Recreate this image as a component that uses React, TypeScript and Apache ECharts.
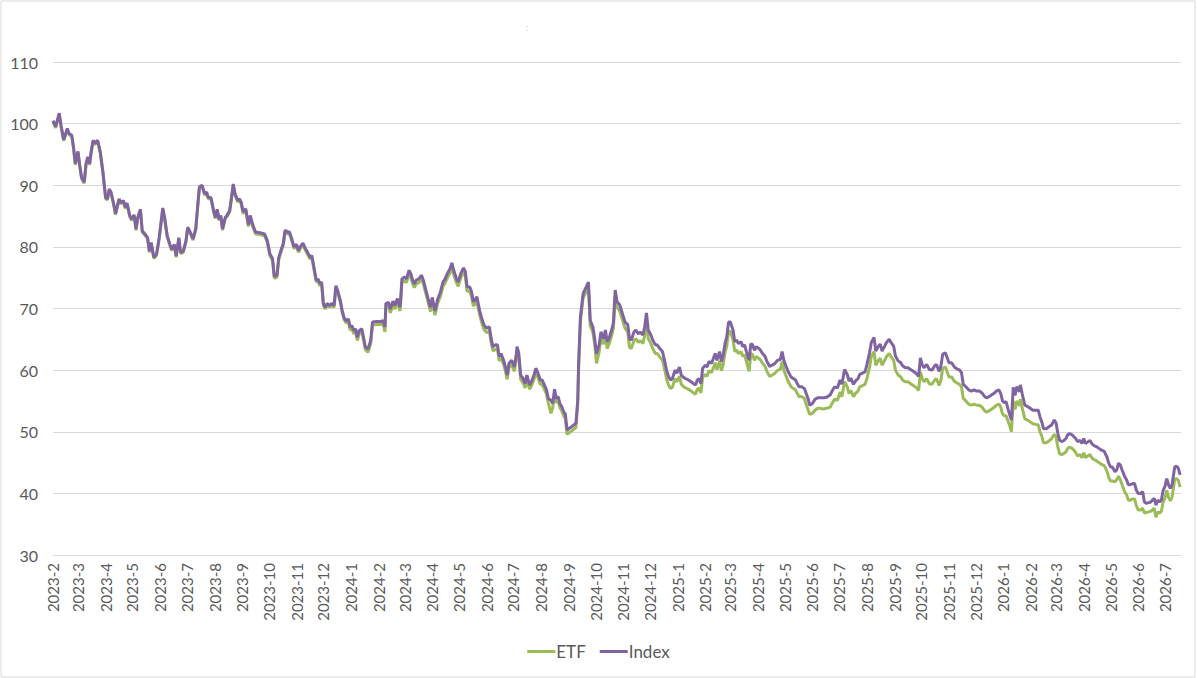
import React, { useEffect, useRef } from 'react';
import * as echarts from 'echarts';

// Axis runs over calendar days from the first date to the last one
const firstDate = [2023, 2, 1];
const totalDays = 1265;

// Sample points: day offsets from firstDate, Index and ETF values
const daysA = [0,3,7,9,12,16,18,21,23,25,28,30,32,35,37,39,41,43,45,47,50,53,56,59,61,63,65,68,70,74,76,79,81,83,86,88,91,93,95,98,100,103,106,108,110,113,116,119,123,125,128,131,133,136,138,141,143,146,149,151,154,157,160,162,164,167,170,172,174,177,180,182,184,186,188,190,193,195,198,200,202,204,207,209];
const indexA = [100.5,99.5,101.7,99.7,97.4,99.2,98.4,98.1,96.2,93.5,95.5,93.2,91.3,90.5,93.5,94.6,93.5,95.7,97.3,96.8,97.3,95.4,92.1,88.0,87.8,89.4,88.9,87.0,85.4,87.8,87.2,87.5,86.4,87.1,85.1,84.5,85.2,82.9,84.8,86.1,82.6,82.1,81.5,79.3,80.7,78.3,78.8,81.5,86.3,84.8,81.8,80.4,79.6,80.4,78.5,81.5,79.1,79.3,81.0,83.2,82.3,81.3,83.0,86.4,89.7,90.0,88.6,88.9,88.0,88.0,85.9,84.8,86.1,84.5,85.1,82.9,84.8,85.1,85.9,88.0,90.2,88.6,87.5,87.8];
const etfA = [100.3,99.3,101.5,99.5,97.2,99.0,98.2,97.9,96.0,93.3,95.3,93.0,91.1,90.3,93.3,94.4,93.3,95.5,97.1,96.6,97.1,95.2,91.9,87.8,87.6,89.2,88.7,86.8,85.2,87.6,87.0,87.3,86.2,86.9,84.9,84.3,85.0,82.7,84.6,85.9,82.4,81.9,81.3,79.1,80.5,78.1,78.6,81.3,86.1,84.6,81.6,80.2,79.4,80.2,78.3,81.3,78.9,79.1,80.8,83.0,82.1,81.1,82.8,86.2,89.5,89.8,88.4,88.7,87.8,87.8,85.7,84.6,85.9,84.3,84.9,82.7,84.6,84.9,85.7,87.8,90.0,88.4,87.3,87.6];

const daysB = [211,213,216,219,221,224,227,232,237,240,243,246,248,251,253,256,258,260,263,265,268,270,273,275,277,280,283,285,288,290,292,295,297,299,301,303,305,307,310,312,315,317,319,322,324,326,328,331,333,335,337,339,341,343,346,348,350,353,356,358,363,367,370,372,373,376,378,381,383,386,389,391,394,396,399,401,403,405,407,410,413,415,418,420];
const indexB = [87.2,85.7,86.2,83.6,85.1,83.5,82.4,82.3,82.1,81.1,78.9,78.1,75.2,75.4,78.3,79.7,80.5,82.7,82.4,82.4,81.1,80.0,80.4,79.4,80.0,80.6,79.7,79.2,78.3,78.6,77.0,74.6,74.8,74.0,74.3,70.8,70.2,70.8,70.5,70.8,70.5,73.7,72.9,71.3,69.7,68.6,68.0,68.3,67.0,67.2,66.4,66.7,65.3,66.4,66.7,65.3,63.8,63.4,64.8,67.8,67.9,67.9,68.0,67.0,70.8,71.0,69.9,71.2,70.5,71.6,70.2,74.8,75.1,74.8,76.2,75.6,74.6,74.0,74.6,74.8,75.4,74.6,72.9,71.8];
const etfB = [86.9,85.4,85.9,83.3,84.8,83.2,82.1,82.0,81.8,80.8,78.6,77.8,74.9,75.1,78.0,79.4,80.2,82.4,82.1,82.1,80.8,79.7,80.1,79.1,79.7,80.3,79.4,78.9,78.0,78.3,76.7,74.3,74.5,73.7,74.0,70.5,69.9,70.5,70.2,70.5,70.2,73.4,72.6,71.0,69.4,68.3,67.7,67.8,66.5,66.7,65.9,66.2,64.8,65.9,66.2,64.8,63.3,62.9,64.3,67.3,67.4,67.4,67.5,66.2,70.2,70.4,69.3,70.6,69.9,71.0,69.6,74.2,74.5,74.2,75.6,75.0,74.0,73.4,74.0,74.2,74.8,74.0,72.3,71.2];

const daysC = [423,425,428,431,434,437,439,442,445,447,449,452,454,457,460,462,464,467,469,471,473,475,478,480,483,486,489,491,493,496,498,500,502,505,507,509,511,514,517,519,520,522,524,527,529,531,534,536,539,541,543,546,548,550,553,555,558,560,562,564,566,568,570,573,574,576,581,586,588,589,591,594,600,602,605,607,609,612,614,617,619,621,623,626,628,630,632];
const indexC = [70.2,71.8,69.6,71.5,72.6,74.3,74.7,75.7,76.5,77.4,76.2,74.9,74.3,75.7,76.6,76.0,73.5,73.5,72.7,71.1,71.4,71.9,69.7,68.6,67.3,66.8,67.0,65.1,63.8,64.1,64.1,62.2,62.7,61.6,60.5,59.2,61.1,61.6,60.5,62.4,63.8,62.7,59.2,58.6,57.8,59.2,57.6,58.1,59.2,60.3,59.7,58.4,58.4,57.8,56.8,55.4,55.1,54.6,56.9,55.4,55.7,54.6,54.1,53.0,53.0,50.3,50.8,51.4,55.1,61.1,68.6,72.4,74.3,68.1,67.0,65.1,62.7,64.1,66.2,65.1,66.5,64.6,65.1,66.5,67.7,73.0,71.1];
const etfC = [69.5,71.1,68.9,70.8,71.9,73.6,74.0,75.0,75.8,76.7,75.5,74.2,73.6,75.0,75.9,75.3,72.8,72.8,72.0,70.4,70.7,71.2,69.0,67.9,66.6,66.1,66.3,64.4,63.1,63.4,63.4,61.5,62.0,60.9,59.8,58.5,60.4,60.9,59.8,61.7,63.1,62.0,58.5,57.9,57.1,58.5,56.9,57.4,58.5,59.6,59.0,57.7,57.7,57.1,56.1,54.7,53.0,53.9,56.2,54.7,55.0,53.9,53.4,52.3,52.3,49.6,50.1,50.7,54.4,60.4,67.9,71.7,73.4,67.2,66.1,64.2,61.1,62.9,65.3,64.2,65.6,63.5,64.2,65.6,66.8,72.1,70.2];

const daysD = [635,638,641,644,646,648,651,653,656,658,661,663,665,667,670,672,675,677,680,683,686,688,690,692,694,697,699,702,704,706,709,712,715,718,720,722,724,726,728,731,733,735,738,740,742,744,747,749,751,753,755,757,759,762,764,766,768,771,773,775,777,780,782,784,786,788,791,793,795,798,800,803,806,809,812,815,817,819,821,824,827,830,832,834,836,839,842,844,846,848,851,854,857,859];
const indexD = [70.6,69.2,67.8,67.4,65.1,64.9,66.2,66.5,65.9,66.2,65.7,67.0,69.3,66.5,65.7,64.9,64.1,64.1,63.5,63.0,61.1,59.7,58.9,58.4,58.6,60.0,59.5,60.5,59.2,58.9,58.6,58.4,58.1,57.8,57.6,58.4,58.6,57.8,60.3,60.8,60.5,61.4,61.1,61.9,62.7,61.6,63.0,61.4,62.4,64.3,65.4,67.8,67.8,66.5,64.6,64.9,64.3,64.6,63.8,64.1,63.0,61.6,64.3,64.1,63.2,63.8,63.5,63.2,62.7,62.2,61.4,60.6,60.8,61.1,61.6,61.7,63.0,61.6,60.8,59.7,58.9,58.6,58.4,57.8,57.3,57.3,57.0,56.2,55.4,54.3,54.6,55.3,55.5,55.5];
const etfD = [69.6,68.2,66.8,66.2,63.7,63.5,64.8,65.1,64.5,64.8,64.3,65.6,67.9,65.1,64.3,63.5,62.7,62.7,62.1,61.6,59.7,58.3,57.5,57.0,57.2,58.6,58.1,59.0,57.7,57.4,57.1,56.9,56.6,56.3,56.1,56.9,57.1,56.3,58.8,59.3,59.0,59.9,59.6,60.4,61.2,60.1,61.5,59.9,60.9,62.8,63.9,66.3,66.3,64.9,63.0,63.3,62.7,63.0,62.2,62.5,61.4,59.8,62.7,62.5,61.6,62.2,61.9,61.6,61.1,60.6,59.8,59.0,59.2,59.5,60.0,60.1,61.4,60.0,59.2,58.1,57.3,57.0,56.8,56.2,55.7,55.7,55.4,54.4,53.6,52.8,53.0,53.5,53.8,53.8];

const daysE = [863,867,871,873,876,879,882,884,887,890,892,894,897,899,902,904,907,910,912,915,917,920,922,925,927,929,932,934,937,939,942,944,947,950,952,955,958,961,964,967,970,972,974,976,979,982,985,988,990,993,995,997,1000,1002,1004,1007,1010,1013,1016,1018,1020,1023,1026,1029,1032,1035,1038,1041,1044,1046,1049,1052,1055,1057,1060];
const indexE = [55.5,55.6,56.0,56.6,57.3,57.1,58.4,57.7,60.1,59.3,58.2,58.7,57.7,58.2,58.6,59.3,59.5,59.7,60.9,62.8,64.5,65.3,63.1,63.9,64.2,63.1,63.9,64.5,65.0,64.5,63.9,62.3,61.5,61.2,60.7,60.4,60.4,60.1,59.8,59.5,59.0,62.0,60.9,60.4,60.9,60.1,60.0,60.7,60.9,59.8,60.7,62.6,62.8,62.0,61.2,61.2,60.5,60.2,60.0,59.6,57.7,57.3,56.8,56.6,56.8,56.6,56.6,56.3,55.7,55.5,55.7,56.0,56.3,56.6,56.8];
const etfE = [53.7,53.8,54.0,54.6,55.3,55.1,56.4,55.7,58.1,57.3,56.2,56.7,55.7,56.2,56.6,57.3,57.5,57.7,58.6,60.5,62.2,63.0,60.8,61.6,61.9,60.8,61.6,62.2,62.7,62.2,61.6,60.0,59.2,58.9,58.4,58.1,58.1,57.8,57.5,57.2,56.7,59.7,58.6,58.1,58.6,57.8,57.7,58.4,58.6,57.5,58.4,60.3,60.5,59.7,58.9,58.9,58.2,57.9,57.7,57.3,55.4,55.0,54.5,54.3,54.5,54.3,54.3,54.0,53.4,53.2,53.4,53.7,54.0,54.3,54.5];

const daysF = [1062,1064,1066,1068,1070,1072,1074,1076,1078,1080,1083,1084,1086,1089,1092,1095,1098,1101,1104,1106,1108,1110,1113,1116,1119,1122,1124,1126,1128,1131,1133,1135,1137,1139,1142,1144,1146,1148,1151,1153,1155,1157,1160,1162,1164,1166,1169,1172,1175,1178,1181,1183,1185,1187,1190,1192,1194,1196,1198,1201,1203,1205,1207,1210,1212,1214,1216,1219,1221,1223,1225,1228,1230,1232,1234,1236,1238,1240,1242,1244,1246,1248,1250,1252,1254,1257,1259,1261,1263];
const indexF = [56.2,55.0,54.7,54.9,53.8,52.8,51.9,57.2,55.9,57.3,56.5,57.6,56.2,54.3,54.1,53.8,53.5,53.5,53.5,52.4,51.6,50.5,50.5,50.8,51.1,51.9,51.4,49.7,48.6,48.4,48.6,48.9,49.5,49.7,49.5,49.2,48.9,48.4,48.6,48.1,48.9,48.1,48.4,48.6,48.1,47.8,47.6,47.3,47.0,46.8,45.9,44.9,44.3,44.3,43.5,43.8,44.9,44.6,43.8,42.7,42.2,41.4,41.4,41.6,41.6,40.5,40.0,40.0,40.3,38.6,38.4,38.5,38.6,38.9,39.2,38.1,38.9,38.6,38.9,40.5,41.1,42.4,41.4,40.8,41.4,44.3,44.4,44.1,43.0];
const etfF = [54.0,52.9,52.6,52.6,51.8,51.0,50.0,55.0,53.6,55.0,54.2,55.3,53.9,52.1,51.9,51.6,51.3,51.2,51.1,50.0,49.3,48.2,48.2,48.5,48.9,49.6,49.1,47.5,46.4,46.3,46.5,46.7,47.3,47.5,47.3,47.0,46.6,46.1,46.3,45.8,46.6,45.8,46.1,46.3,45.8,45.5,45.3,45.0,44.7,44.5,43.6,42.6,42.0,42.0,41.9,42.2,42.8,42.2,41.4,40.2,39.8,38.9,38.9,39.1,39.1,38.0,37.3,37.3,37.6,36.8,36.9,37.0,37.1,37.3,37.6,36.1,37.0,36.8,37.1,38.6,39.2,40.5,39.4,38.8,39.4,42.3,42.4,42.1,41.0];

const seriesNames = ['ETF', 'Index'];
const seriesColors = ['#9BBB59', '#8064A2'];
const yMin = 30;
const yMax = 110;
const yStep = 10;

const FONT = 'Lato, "Noto Sans", sans-serif';
const TEXT = '#595959';
const GRID = '#D9D9D9';

function buildCategories(): string[] {
  const base = Date.UTC(firstDate[0], firstDate[1] - 1, firstDate[2]);
  const out: string[] = [];
  for (let i = 0; i < totalDays; i++) {
    const d = new Date(base + i * 86400000);
    out.push(`${d.getUTCFullYear()}-${d.getUTCMonth() + 1}-${d.getUTCDate()}`);
  }
  return out;
}

function pairs(cats: string[], days: number[], vals: number[]) {
  const n = Math.min(days.length, vals.length);
  const out: [string, number][] = [];
  for (let i = 0; i < n; i++) out.push([cats[days[i]], vals[i]]);
  return out;
}

export default function App() {
  const ref = useRef<HTMLDivElement>(null);
  useEffect(() => {
    document.body.style.margin = '0';
    if (!ref.current) return;
    const chart = echarts.init(ref.current, null, { renderer: 'svg' });
    const cats = buildCategories();
    const allDays = [...daysA, ...daysB, ...daysC, ...daysD, ...daysE, ...daysF];
    const allIndex = [...indexA, ...indexB, ...indexC, ...indexD, ...indexE, ...indexF];
    const allEtf = [...etfA, ...etfB, ...etfC, ...etfD, ...etfE, ...etfF];
    const isMonthStart = (v: string) => v.split('-')[2] === '1';
    chart.setOption({
      animation: false,
      backgroundColor: '#ffffff',
      textStyle: { fontFamily: FONT },
      grid: { left: 53, right: 16, top: 62, bottom: 123, containLabel: false },
      legend: {
        data: seriesNames,
        bottom: 13,
        left: 'center',
        icon: 'rect',
        itemWidth: 28,
        itemHeight: 3,
        itemGap: 14,
        textStyle: { color: TEXT, fontSize: 17, fontFamily: FONT, padding: [0, 0, 0, -4] },
      },
      xAxis: {
        type: 'category',
        data: cats,
        boundaryGap: false,
        axisLine: { show: true, lineStyle: { color: GRID, width: 1 } },
        axisTick: { show: false },
        splitLine: { show: false },
        axisLabel: {
          interval: (_i: number, v: string) => isMonthStart(v),
          rotate: 90,
          margin: 8,
          color: TEXT,
          fontSize: 15,
          fontFamily: FONT,
          formatter: (v: string) => v.split('-').slice(0, 2).join('-'),
        },
      },
      yAxis: {
        type: 'value',
        min: yMin,
        max: yMax,
        interval: yStep,
        axisLine: { show: false },
        axisTick: { show: false },
        splitLine: { lineStyle: { color: GRID, width: 1 } },
        axisLabel: { color: TEXT, fontSize: 16, fontFamily: FONT, margin: 15 },
      },
      series: [
        {
          name: seriesNames[0],
          type: 'line',
          data: pairs(cats, allDays, allEtf),
          showSymbol: false,
          symbol: 'none',
          lineStyle: { color: seriesColors[0], width: 3 },
          itemStyle: { color: seriesColors[0] },
          z: 2,
        },
        {
          name: seriesNames[1],
          type: 'line',
          data: pairs(cats, allDays, allIndex),
          showSymbol: false,
          symbol: 'none',
          lineStyle: { color: seriesColors[1], width: 3 },
          itemStyle: { color: seriesColors[1] },
          z: 3,
        },
      ],
      graphic: [
        {
          type: 'rect',
          shape: { x: 1, y: 1, width: 1194, height: 676 },
          style: { fill: 'none', stroke: GRID, lineWidth: 1 },
          silent: true,
        },
        {
          type: 'text',
          x: 526,
          y: 22,
          style: { text: ':', fill: '#c8c8c8', fontSize: 10, fontFamily: FONT },
          silent: true,
        },
      ],
    });
    return () => chart.dispose();
  }, []);
  return <div ref={ref} style={{ width: 1197, height: 678 }} />;
}
